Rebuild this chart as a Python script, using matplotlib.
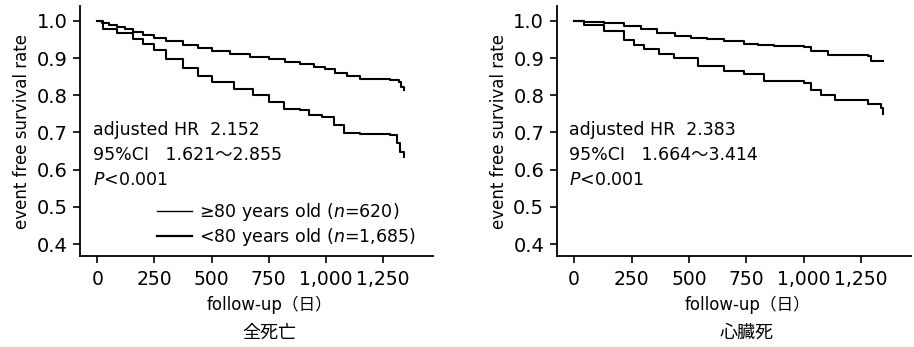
import matplotlib
matplotlib.use("Agg")
from matplotlib import pyplot as plt
from matplotlib.lines import Line2D

plt.rcParams['font.family'] = ['DejaVu Sans', 'Noto Sans CJK JP']
plt.rcParams['mathtext.fontset'] = 'dejavusans'

#%% data
# 全死亡
all_u80_days = [0, 20, 50, 85, 120, 158, 200, 250, 300, 377, 440, 500, 580, 669, 750, 820, 888, 950, 997, 1040, 1092, 1150, 1282, 1318, 1330, 1340]
all_u80_surv = [1.0, 0.993, 0.988, 0.984, 0.978, 0.970, 0.962, 0.953, 0.945, 0.935, 0.927, 0.920, 0.912, 0.903, 0.896, 0.890, 0.883, 0.877, 0.870, 0.860, 0.851, 0.844, 0.842, 0.836, 0.823, 0.814]
all_o80_days = [0, 26, 85, 158, 200, 250, 300, 377, 440, 500, 596, 680, 750, 815, 888, 925, 983, 1034, 1078, 1150, 1282, 1311, 1325, 1340]
all_o80_surv = [1.0, 0.979, 0.966, 0.950, 0.937, 0.921, 0.898, 0.872, 0.852, 0.836, 0.818, 0.800, 0.782, 0.764, 0.760, 0.747, 0.742, 0.720, 0.699, 0.695, 0.693, 0.671, 0.648, 0.635]

# 心臓死
card_u80_days = [0, 44, 131, 218, 290, 363, 440, 509, 580, 654, 741, 800, 872, 1003, 1032, 1105, 1279, 1294, 1344]
card_u80_surv = [1.0, 0.996, 0.994, 0.985, 0.977, 0.967, 0.960, 0.955, 0.951, 0.947, 0.938, 0.934, 0.931, 0.929, 0.918, 0.909, 0.905, 0.893, 0.891]
card_o80_days = [0, 44, 131, 218, 260, 305, 370, 436, 538, 654, 741, 828, 1003, 1032, 1076, 1134, 1279, 1337, 1344]
card_o80_surv = [1.0, 0.989, 0.972, 0.949, 0.935, 0.923, 0.912, 0.900, 0.878, 0.866, 0.858, 0.838, 0.833, 0.813, 0.800, 0.786, 0.776, 0.767, 0.749]

xticks = [0, 250, 500, 750, 1000, 1250]
xticklabels = ['0', '250', '500', '750', '1,000', '1,250']
yticks = [0.4, 0.5, 0.6, 0.7, 0.8, 0.9, 1.0]

hr_text_all = ['adjusted HR  2.152', '95%CI   1.621～2.855', '$P$<0.001']
hr_text_card = ['adjusted HR  2.383', '95%CI   1.664～3.414', '$P$<0.001']
legend_labels = ['≥80 years old (${n}$=620)', '<80 years old (${n}$=1,685)']
titles = ['全死亡', '心臓死']

#%%
fig = plt.figure(figsize=(9.14, 3.47), dpi=100)
ax1 = fig.add_axes([0.0875, 0.262, 0.386, 0.720])
ax2 = fig.add_axes([0.609, 0.262, 0.388, 0.720])

def style_axes(ax, title):
    ax.set_xlim(-76, 1468)
    ax.set_ylim(0.368, 1.039)
    ax.spines['top'].set_visible(False)
    ax.spines['right'].set_visible(False)
    ax.spines['left'].set_linewidth(1.3)
    ax.spines['bottom'].set_linewidth(1.3)
    ax.set_xticks(xticks)
    ax.set_xticklabels(xticklabels)
    ax.set_yticks(yticks)
    ax.set_yticklabels(['%.1f' % v for v in yticks])
    ax.tick_params(axis='both', direction='out', length=5, width=1.2, colors='black')
    ax.tick_params(axis='y', labelsize=14, pad=4)
    ax.tick_params(axis='x', labelsize=13.5, pad=5)
    ax.set_ylabel('event free survival rate', fontsize=12, labelpad=4)
    ax.text(0.537, -0.196, 'follow-up（日）', transform=ax.transAxes, ha='center', va='center', fontsize=12)
    ax.text(0.537, -0.306, title, transform=ax.transAxes, ha='center', va='center', fontsize=13,
            family=['Noto Sans CJK JP'])

def put_stats(ax, lines):
    for i, s in enumerate(lines):
        ax.text(-20, 0.707 - i * 0.067, s, fontsize=12.5, va='center', ha='left', color='black')

ax1.step(all_u80_days, all_u80_surv, where='post', color='black', lw=1.5)
ax1.step(all_o80_days, all_o80_surv, where='post', color='black', lw=1.5)
ax2.step(card_u80_days, card_u80_surv, where='post', color='black', lw=1.5)
ax2.step(card_o80_days, card_o80_surv, where='post', color='black', lw=1.5)

style_axes(ax1, titles[0])
style_axes(ax2, titles[1])
put_stats(ax1, hr_text_all)
put_stats(ax2, hr_text_card)

handles = [Line2D([], [], color='black', lw=1.0), Line2D([], [], color='black', lw=1.6)]
ax1.legend(handles, legend_labels, loc='lower left', bbox_to_anchor=(0.19, -0.01), frameon=False,
           fontsize=12.5, handlelength=2.0, handletextpad=0.4, labelspacing=0.2, borderaxespad=0.2)

plt.savefig('out.png', dpi=100)
